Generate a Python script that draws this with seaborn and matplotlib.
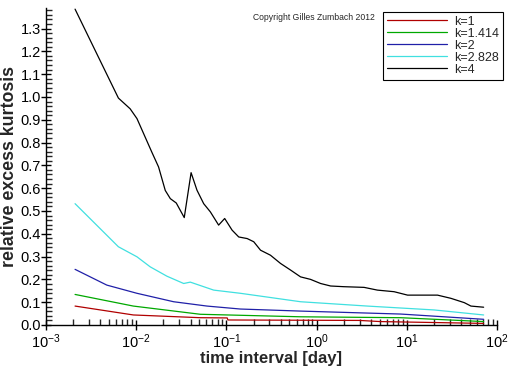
import pandas as pd
import matplotlib
matplotlib.use("Agg")
import matplotlib.pyplot as plt
import matplotlib.ticker as mticker
import seaborn as sns

# values (time interval in days, relative excess kurtosis)
k_labels = ["k=1", "k=1.414", "k=2", "k=2.828", "k=4"]
colors = ["#b00000", "#00a800", "#2020a8", "#40e0e0", "#000000"]

x_k1 = [0.0021, 0.0093, 0.0514, 0.102, 0.104, 3.0, 5.1, 71.1]
y_k1 = [0.083, 0.044, 0.032, 0.031, 0.022, 0.020, 0.015, 0.007]

x_k1414 = [0.0021, 0.0093, 0.0514, 0.664, 8.57, 71.1]
y_k1414 = [0.134, 0.083, 0.047, 0.036, 0.032, 0.015]

x_k2 = [0.0021, 0.00472, 0.0102, 0.026, 0.061, 0.143, 0.664, 8.57, 71.1]
y_k2 = [0.244, 0.175, 0.139, 0.102, 0.083, 0.070, 0.061, 0.048, 0.025]

x_k2828 = [0.0021, 0.00635, 0.0102, 0.0143, 0.0219, 0.0336, 0.0398, 0.0723,
           0.143, 0.664, 3.66, 20.1, 71.1]
y_k2828 = [0.532, 0.343, 0.299, 0.255, 0.214, 0.182, 0.188, 0.153,
           0.139, 0.102, 0.083, 0.066, 0.044]

x_k4 = [0.0021, 0.00366, 0.00635, 0.00857, 0.0102, 0.0149, 0.0177, 0.021,
        0.0239, 0.0278, 0.0341, 0.0406, 0.0472, 0.056, 0.0664, 0.082,
        0.0957, 0.1156, 0.137, 0.17, 0.201, 0.239, 0.308, 0.398, 0.514,
        0.664, 0.857, 1.107, 1.43, 2.0, 3.36, 4.72, 7.23, 10.2, 21.9,
        30.8, 43.4, 51.4, 71.1]
y_k4 = [1.385, 1.189, 0.995, 0.948, 0.905, 0.758, 0.693, 0.59,
        0.554, 0.535, 0.471, 0.668, 0.591, 0.532, 0.496, 0.438,
        0.467, 0.416, 0.386, 0.379, 0.365, 0.328, 0.306, 0.27, 0.241,
        0.211, 0.2, 0.182, 0.171, 0.168, 0.165, 0.153, 0.146, 0.131, 0.131,
        0.117, 0.098, 0.083, 0.078]

series = [(x_k1, y_k1), (x_k1414, y_k1414), (x_k2, y_k2),
          (x_k2828, y_k2828), (x_k4, y_k4)]

frames = []
for lab, (xs, ys) in zip(k_labels, series):
    frames.append(pd.DataFrame({"t": xs, "kurt": ys, "k": lab}))
df = pd.concat(frames, ignore_index=True)

sns.set_style("ticks")
plt.rcParams["font.family"] = ["Liberation Sans", "DejaVu Sans"]
plt.rcParams["mathtext.default"] = "regular"

fig = plt.figure(figsize=(5.12, 3.66), dpi=100)
ax = fig.add_axes([46 / 512, 1 - 325 / 366, 451 / 512, 317 / 366])

sns.lineplot(data=df, x="t", y="kurt", hue="k", hue_order=k_labels,
             palette=colors, estimator=None, sort=True, linewidth=0.9,
             ax=ax, legend=True)

ax.set_xscale("log")
ax.set_xlim(1e-3, 1e2)
ax.set_ylim(0, 1.39)
ax.yaxis.set_major_locator(mticker.MultipleLocator(0.1))
ax.yaxis.set_minor_locator(mticker.MultipleLocator(0.02))
ax.yaxis.set_major_formatter(mticker.FormatStrFormatter("%.1f"))
ax.xaxis.set_major_locator(mticker.LogLocator(base=10))
ax.xaxis.set_minor_locator(mticker.LogLocator(base=10, subs=range(2, 10)))
ax.xaxis.set_minor_formatter(mticker.NullFormatter())

ax.tick_params(which="major", direction="inout", length=7, width=1,
               labelsize=10.5, pad=0, colors="black")
ax.tick_params(axis="x", which="major", pad=1.5)
ax.tick_params(which="minor", direction="in", length=4, width=1)
sns.despine(ax=ax)
for s in ["left", "bottom"]:
    ax.spines[s].set_color("black")
    ax.spines[s].set_linewidth(1)

ax.set_xlabel("time interval [day]", fontsize=12, fontweight="bold", labelpad=0)
ax.set_ylabel("relative excess kurtosis", fontsize=12.8, fontweight="bold", labelpad=2)

leg = ax.legend(loc="upper right", bbox_to_anchor=(503 / 512, 1 - 12 / 366),
                bbox_transform=fig.transFigure, fontsize=9, frameon=True,
                fancybox=False, framealpha=1, edgecolor="black",
                handlelength=4.8, labelspacing=0.0, borderpad=0.3,
                handletextpad=0.6, borderaxespad=0)
leg.get_frame().set_linewidth(0.8)

fig.text(253 / 512, 1 - 17 / 366, "Copyright Gilles Zumbach 2012",
         fontsize=6.2, va="center", ha="left")

fig.savefig("out.png", dpi=100)
